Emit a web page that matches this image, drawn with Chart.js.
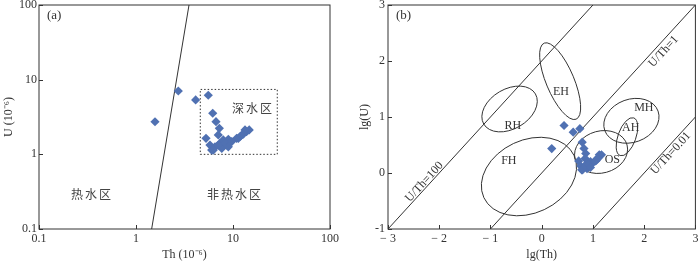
<!DOCTYPE html>
<html>
<head>
<meta charset="utf-8">
<script src="https://cdn.jsdelivr.net/npm/chart.js@4.4.1/dist/chart.umd.min.js"></script>
<style>
  html, body { margin: 0; padding: 0; background: #fff; }
  #wrap { display: flex; width: 700px; height: 262px; }
  canvas { display: block; }
</style>
</head>
<body>
<div id="wrap">
  <canvas id="chartA" width="350" height="262"></canvas>
  <canvas id="chartB" width="350" height="262"></canvas>
</div>
<script>
// samples (10^-6)
const thValues = [1.57, 2.73, 4.12, 5.56, 6.18, 6.68, 7.23, 5.27, 7.05, 5.79,
  6.03, 6.52, 7.35, 7.94, 8.61, 7.66, 8.95, 10.9, 11.8, 12.8,
  13.8, 14.7, 13.3, 9.7, 6.27, 7.05, 8.28, 8.95, 11.35, 12.2];
const uValues = [2.73, 7.05, 5.35, 6.18, 3.55, 2.74, 2.23, 1.64, 1.82, 1.33,
  1.14, 1.26, 1.41, 1.56, 1.33, 1.20, 1.59, 1.64, 1.72, 1.87,
  2.01, 2.12, 2.12, 1.48, 1.14, 1.33, 1.41, 1.26, 1.64, 1.80];

// panel a: boundary line and deep-water box
const boundaryTh = [1.45, 3.52];
const boundaryU = [0.1, 100];
const boxTh = [4.6, 28.6, 28.6, 4.6, 4.6];
const boxU = [1, 1, 7.4, 7.4, 1];
const logTicks = [0.1, 1, 10, 100];
const zoneLabels = ['深水区', '热水区', '非热水区'];
const zoneTh = [16.1, 0.352, 10.5];
const zoneU = [4.18, 0.294, 0.294];

// panel b: U/Th ratio lines (lg values)
const ratioNames = ['U/Th=100', 'U/Th=1', 'U/Th=0.01'];
const ratioLineX = [[-3, 1], [-1, 3], [1, 3]];
const ratioLineY = [[-1, 3], [-1, 3], [-1, 1]];
const ratioLabelX = [-2.29, 2.38, 2.52];
const ratioLabelY = [-0.16, 2.17, 0.35];

// panel b: fields (centre + two conjugate half axes, lg units)
const fieldNames = ['RH', 'EH', 'FH', 'OS', 'MH', 'AH'];
const fieldCentre = [[-0.627, 1.143], [0.36, 1.64], [-0.249, -0.063], [1.159, 0.375], [1.751, 0.932], [1.664, 0.648]];
const fieldAxisU = [[0.505, 0.268], [0.31, -0.68], [0.880, 0.377], [0.507, 0.125], [0.520, 0.174], [-0.133, -0.336]];
const fieldAxisV = [[0.194, -0.309], [-0.254, -0.088], [0.299, -0.591], [0.106, -0.362], [0.143, -0.361], [-0.164, 0.055]];
const fieldLabelX = [-0.563, 0.377, -0.641, 1.379, 1.994, 1.736];
const fieldLabelY = [0.839, 1.452, 0.214, 0.232, 1.166, 0.798];

const ink = '#333';
const markerColor = '#5071b2';
Chart.defaults.font.family = '"Liberation Serif", "Times New Roman", serif';
Chart.defaults.font.size = 12;
Chart.defaults.color = ink;

// frame + inward ticks + panel tag
const framePlugin = {
  id: 'frame',
  afterDraw(chart, args, opts) {
    const ctx = chart.ctx, a = chart.chartArea;
    ctx.save();
    ctx.strokeStyle = ink;
    ctx.lineWidth = 1;
    ctx.strokeRect(a.left, a.top, a.right - a.left, a.bottom - a.top);
    ctx.beginPath();
    chart.scales.x.ticks.forEach(t => {
      const px = Math.round(chart.scales.x.getPixelForValue(t.value)) + 0.5;
      ctx.moveTo(px, a.bottom); ctx.lineTo(px, a.bottom - 4);
    });
    chart.scales.y.ticks.forEach(t => {
      const py = Math.round(chart.scales.y.getPixelForValue(t.value)) + 0.5;
      ctx.moveTo(a.left, py); ctx.lineTo(a.left + 4, py);
    });
    ctx.stroke();
    ctx.fillStyle = ink;
    ctx.font = '13px "Liberation Serif", serif';
    ctx.textBaseline = 'middle';
    ctx.fillText(opts.tag, a.left + 8, a.top + 11);
    ctx.restore();
  }
};

const zonePlugin = {
  id: 'zones',
  afterDatasetsDraw(chart) {
    const ctx = chart.ctx, x = chart.scales.x, y = chart.scales.y;
    ctx.save();
    ctx.fillStyle = '#444';
    ctx.font = '12px "Noto Sans CJK SC", sans-serif';
    ctx.letterSpacing = '2px';
    ctx.textAlign = 'center';
    ctx.textBaseline = 'middle';
    zoneLabels.forEach((s, i) => {
      ctx.fillText(s, x.getPixelForValue(zoneTh[i]), y.getPixelForValue(zoneU[i]));
    });
    ctx.restore();
  }
};

const fieldPlugin = {
  id: 'fields',
  beforeDatasetsDraw(chart) {
    const ctx = chart.ctx, x = chart.scales.x, y = chart.scales.y, a = chart.chartArea;
    ctx.save();
    ctx.beginPath();
    ctx.rect(a.left, a.top, a.right - a.left, a.bottom - a.top);
    ctx.clip();
    ctx.strokeStyle = ink;
    ctx.lineWidth = 1;
    fieldNames.forEach((n, i) => {
      const c = fieldCentre[i], u = fieldAxisU[i], v = fieldAxisV[i];
      const cx = x.getPixelForValue(c[0]), cy = y.getPixelForValue(c[1]);
      const ux = x.getPixelForValue(c[0] + u[0]) - cx, uy = y.getPixelForValue(c[1] + u[1]) - cy;
      const vx = x.getPixelForValue(c[0] + v[0]) - cx, vy = y.getPixelForValue(c[1] + v[1]) - cy;
      ctx.beginPath();
      ctx.save();
      ctx.transform(ux, uy, vx, vy, cx, cy);
      ctx.arc(0, 0, 1, 0, Math.PI * 2);
      ctx.restore();
      ctx.stroke();
    });
    ctx.restore();
  },
  afterDatasetsDraw(chart) {
    const ctx = chart.ctx, x = chart.scales.x, y = chart.scales.y;
    ctx.save();
    ctx.fillStyle = ink;
    ctx.font = '12px "Liberation Serif", serif';
    ctx.textAlign = 'center';
    ctx.textBaseline = 'middle';
    fieldNames.forEach((n, i) => {
      ctx.fillText(n, x.getPixelForValue(fieldLabelX[i]), y.getPixelForValue(fieldLabelY[i]));
    });
    const ang = -Math.atan2(y.getPixelForValue(0) - y.getPixelForValue(1), x.getPixelForValue(1) - x.getPixelForValue(0));
    ratioNames.forEach((n, i) => {
      ctx.save();
      ctx.translate(x.getPixelForValue(ratioLabelX[i]), y.getPixelForValue(ratioLabelY[i]));
      ctx.rotate(ang);
      ctx.fillText(n, 0, 0);
      ctx.restore();
    });
    ctx.restore();
  }
};

const lineStyle = { showLine: true, pointRadius: 0, borderColor: ink, borderWidth: 1, fill: false };
const markerStyle = { pointStyle: 'rectRot', pointRadius: 4.6, pointHoverRadius: 4.6, backgroundColor: markerColor, borderWidth: 0 };

function axis(extra, size, isX) {
  return Object.assign({
    grid: { display: false, drawTicks: false },
    border: { display: false },
    afterFit: s => {
      if (isX) { s.height = size; s.paddingLeft = 0; s.paddingRight = 0; }
      else { s.width = size; s.paddingTop = 0; s.paddingBottom = 0; }
    }
  }, extra);
}

new Chart(document.getElementById('chartA'), {
  type: 'scatter',
  data: {
    datasets: [
      Object.assign({ data: thValues.map((v, i) => ({ x: v, y: uValues[i] })), order: 0 }, markerStyle),
      Object.assign({ data: boundaryTh.map((v, i) => ({ x: v, y: boundaryU[i] })), order: 1 }, lineStyle),
      Object.assign({ data: boxTh.map((v, i) => ({ x: v, y: boxU[i] })), order: 1, borderDash: [2, 2], borderColor: '#444' }, lineStyle, { borderDash: [1.5, 2] })
    ]
  },
  options: {
    responsive: false,
    animation: false,
    layout: { padding: { left: 0, right: 20, top: 5, bottom: 0 } },
    plugins: { legend: { display: false }, tooltip: { enabled: false }, frame: { tag: '(a)' } },
    scales: {
      x: axis({
        type: 'logarithmic', min: 0.1, max: 100,
        afterBuildTicks: s => { s.ticks = logTicks.map(v => ({ value: v })); },
        ticks: { padding: 3, maxRotation: 0, callback: v => String(v) },
        title: { display: true, text: 'Th (10⁻⁶)', padding: { top: 0, bottom: 0 } }
      }, 33, true),
      y: axis({
        type: 'logarithmic', min: 0.1, max: 100,
        afterBuildTicks: s => { s.ticks = logTicks.map(v => ({ value: v })); },
        ticks: { padding: 2, callback: v => String(v) },
        title: { display: true, text: 'U (10⁻⁶)', padding: { top: 2, bottom: 0 } }
      }, 39, false)
    }
  },
  plugins: [framePlugin, zonePlugin]
});

const ratioSets = ratioNames.map((n, i) => Object.assign({
  data: ratioLineX[i].map((v, j) => ({ x: v, y: ratioLineY[i][j] })), order: 1
}, lineStyle));

new Chart(document.getElementById('chartB'), {
  type: 'scatter',
  data: {
    datasets: [
      Object.assign({ data: thValues.map((v, i) => ({ x: Math.log10(v), y: Math.log10(uValues[i]) })), order: 0 }, markerStyle)
    ].concat(ratioSets)
  },
  options: {
    responsive: false,
    animation: false,
    layout: { padding: { left: 0, right: 3, top: 5, bottom: 0 } },
    plugins: { legend: { display: false }, tooltip: { enabled: false }, frame: { tag: '(b)' } },
    scales: {
      x: axis({
        type: 'linear', min: -3, max: 3,
        ticks: { stepSize: 1, padding: 3, maxRotation: 0, callback: v => v < 0 ? '− ' + (-v) : String(v) },
        title: { display: true, text: 'lg(Th)', padding: { top: 0, bottom: 0 } }
      }, 33, true),
      y: axis({
        type: 'linear', min: -1, max: 3,
        ticks: { stepSize: 1, padding: 3, callback: v => v < 0 ? '-' + (-v) : String(v) },
        title: { display: true, text: 'lg(U)', padding: { top: 8, bottom: 0 } }
      }, 38, false)
    }
  },
  plugins: [framePlugin, fieldPlugin]
});
</script>
</body>
</html>
